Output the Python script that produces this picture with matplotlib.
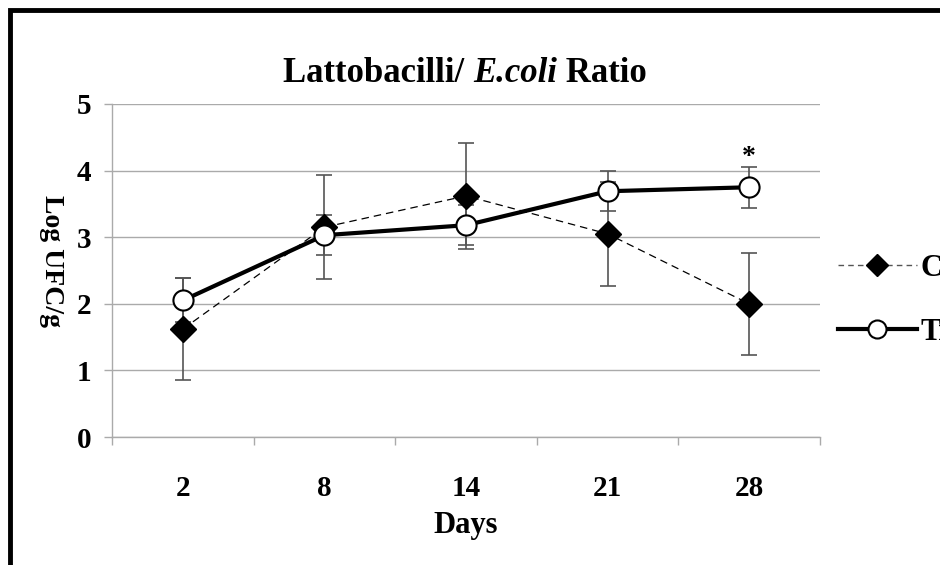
import matplotlib
matplotlib.use("Agg")
import matplotlib.pyplot as plt
from matplotlib.lines import Line2D
from matplotlib.patches import Rectangle
import numpy as np

plt.rcParams['font.family'] = ['Liberation Serif', 'DejaVu Serif']
plt.rcParams['font.weight'] = 'bold'

days = ["2", "8", "14", "21", "28"]
control = [1.62, 3.15, 3.62, 3.05, 2.00]
control_err = [0.77, 0.78, 0.79, 0.78, 0.77]
treated = [2.05, 3.03, 3.18, 3.69, 3.75]
treated_err = [0.33, 0.30, 0.30, 0.30, 0.31]
labels = ["Control", "Treated"]
yticks = [0, 1, 2, 3, 4, 5]
title_parts = [("Lattobacilli/ ", "normal"), ("E.coli", "italic"), (" Ratio", "normal")]

fig = plt.figure(figsize=(9.4, 5.65), dpi=100)
ax = fig.add_axes([112/940, 1-437/565, (820-112)/940, (437-104)/565])

x = np.arange(len(days))
errc = '#555555'
ax.errorbar(x, control, yerr=control_err, fmt='none', ecolor=errc, elinewidth=1.2,
            capsize=5.5, capthick=1.2, zorder=3)
ax.errorbar(x, treated, yerr=treated_err, fmt='none', ecolor=errc, elinewidth=1.2,
            capsize=5.5, capthick=1.2, zorder=3)
ax.plot(x, control, color='black', lw=0.9, ls=(0, (6, 4)), marker='D', ms=13,
        mfc='black', mec='black', zorder=4)
ax.plot(x, treated, color='black', lw=3, marker='o', ms=14.5,
        mfc='white', mec='black', mew=1.5, zorder=5)

ax.text(4, 4.2, '*', ha='center', va='center', fontsize=20, fontweight='bold')

ax.set_xlim(-0.5, 4.5)
ax.set_ylim(0, 5)
ax.set_yticks(yticks)
ax.set_yticklabels([str(v) for v in yticks], fontsize=21, fontweight='bold')
ax.set_xticks(x)
ax.set_xticklabels(days, fontsize=21, fontweight='bold')
ax.set_xticks(np.arange(-0.5, 5, 1), minor=True)
ax.tick_params(axis='x', which='major', length=0, pad=27)
ax.tick_params(axis='x', which='minor', length=6, color='#aaaaaa', width=1)
ax.tick_params(axis='y', length=6, color='#aaaaaa', width=1, pad=9)
ax.grid(axis='y', color='#aaaaaa', lw=1)
ax.set_axisbelow(True)
for s in ['top', 'right']:
    ax.spines[s].set_visible(False)
for s in ['left', 'bottom']:
    ax.spines[s].set_color('#aaaaaa')
    ax.spines[s].set_linewidth(1)

ax.set_xlabel('Days', fontsize=22, fontweight='bold', labelpad=7)
ax.set_ylabel('Log UFC/g', fontsize=20, fontweight='bold', rotation=-90,
              ha='center', va='center')
ax.yaxis.set_label_coords(-0.085, 0.53)

# title assembled from pieces so the italic part keeps normal spacing
fig.canvas.draw()
r = fig.canvas.get_renderer()
tsize = 25
pieces = []
for txt, style in title_parts:
    t = fig.text(0, 1-74/565, txt, fontsize=tsize, fontweight='bold', style=style,
                 ha='left', va='center')
    pieces.append(t)
widths = [t.get_window_extent(renderer=r).width for t in pieces]
total = sum(widths)
xpos = 465 - total/2
for t, w in zip(pieces, widths):
    t.set_x(xpos/940)
    xpos += w

h1 = Line2D([], [], color='#555555', lw=1, ls=(0, (4, 3)), marker='D', ms=11, mfc='black', mec='black')
h2 = Line2D([], [], color='black', lw=3, marker='o', ms=13, mfc='white', mec='black', mew=1.5)
ax.legend([h1, h2], labels, loc='center left', bbox_to_anchor=(1.025, 0.41),
          frameon=False, prop={'size': 22, 'weight': 'bold'}, handlelength=2.6,
          labelspacing=1.15, handletextpad=0.1, borderaxespad=0, borderpad=0)

fig.patches.append(Rectangle((10/940, -0.1), 1.2, 1 - 10/565 + 0.1, transform=fig.transFigure,
                             fill=False, edgecolor='black', lw=3.5))

fig.savefig('out.png', dpi=100)
